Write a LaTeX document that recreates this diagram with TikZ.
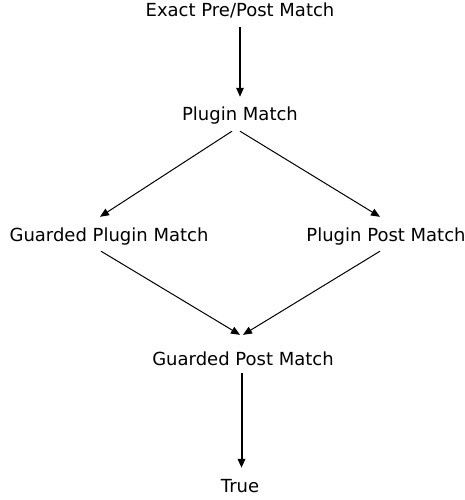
\documentclass[tikz,border=0pt]{standalone}
\usepackage{fontspec}
\setmainfont{DejaVu Sans}
\usetikzlibrary{arrows.meta}

\tikzset{
    lbl/.style={anchor=base, inner xsep=0pt, inner ysep=10pt, text height=14pt, text depth=0pt,
        font=\fontsize{18}{22}\selectfont},
    edge/.style={-{Triangle[length=9pt,width=7.5pt]}, line width=1pt},
}

\begin{document}
\begin{tikzpicture}[x=1pt, y=-1pt]
    \useasboundingbox (0,0) rectangle (465,500);
    \node[lbl] (exact) at (240,17) {Exact Pre/Post Match};
    \node[lbl] (plugin) at (240,121) {Plugin Match};
    \node[lbl] (gplugin) at (109,241) {Guarded Plugin Match};
    \node[lbl] (ppost) at (386,241) {Plugin Post Match};
    \node[lbl] (gpost) at (243,365) {Guarded Post Match};
    \node[lbl] (true) at (240,492) {True};
    \draw[edge, line width=1.3pt] (exact.south) -- (plugin.north);
    \draw[edge] ([xshift=-8pt]plugin.south) -- ([xshift=-9pt]gplugin.north);
    \draw[edge] (plugin.south) -- ([xshift=-6pt]ppost.north);
    \draw[edge] ([xshift=-8pt]gplugin.south) -- ([xshift=-3pt,yshift=6pt]gpost.north);
    \draw[edge] ([xshift=-6pt]ppost.south) -- ([yshift=6pt]gpost.north);
    \draw[edge, line width=2pt] ([xshift=-1.5pt,yshift=2pt]gpost.south) -- ([xshift=1.5pt]true.north);
\end{tikzpicture}
\end{document}
